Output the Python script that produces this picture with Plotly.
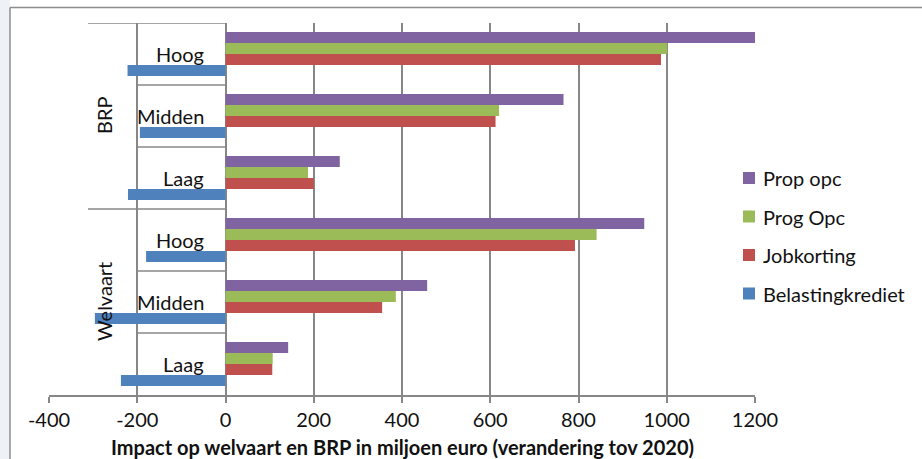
import plotly.graph_objects as go

# Scenario rows, top to bottom
groups = ["BRP", "BRP", "BRP", "Welvaart", "Welvaart", "Welvaart"]
levels = ["Hoog", "Midden", "Laag", "Hoog", "Midden", "Laag"]

# Impact in miljoen euro per maatregel
prop_opc = [1207, 766, 259, 949, 457, 142]
prog_opc = [1001, 620, 187, 841, 386, 107]
jobkorting = [987, 612, 200, 792, 355, 106]
belastingkrediet = [-222, -194, -221, -180, -296, -237]

series_names = ["Prop opc", "Prog Opc", "Jobkorting", "Belastingkrediet"]
series_values = [prop_opc, prog_opc, jobkorting, belastingkrediet]
series_colors = ["#8064A2", "#9BBB59", "#C0504D", "#4F81BD"]

x_ticks = [-400, -200, 0, 200, 400, 600, 800, 1000, 1200]

W, H = 922, 459
ML, MR, MT, MB = 49, 167, 23, 64
PW, PH = W - ML - MR, H - MT - MB

FONT = "Lato"
FS = 20
GRID = "#878787"
TXT = "#111111"


def px(xp):
    return (xp - ML) / PW


def py(yp):
    return (H - MB - yp) / PH


rows = list(range(len(levels)))

fig = go.Figure()
for name, vals, col in zip(series_names, series_values, series_colors):
    fig.add_trace(go.Bar(
        x=vals, y=rows, orientation="h", name=name,
        marker=dict(color=col, line=dict(width=0)),
        showlegend=False,
    ))

shapes = []
annotations = []

# page background strip and chart border
shapes.append(dict(type="rect", xref="paper", yref="paper", x0=px(0), x1=px(10),
                   y0=py(H), y1=py(0), fillcolor="#eef2f4", line=dict(width=0), layer="below"))
shapes.append(dict(type="line", xref="paper", yref="paper", x0=px(10), x1=px(W),
                   y0=py(7.5), y1=py(7.5), line=dict(color="#8c8c8c", width=1.5)))
shapes.append(dict(type="line", xref="paper", yref="paper", x0=px(10), x1=px(10),
                   y0=py(7.5), y1=py(H), line=dict(color="#8c8c8c", width=1.5)))

# category axis boxes: level separators and group separators
for b in range(len(levels)):
    yb = b - 0.5
    is_group_edge = b == 0 or groups[b - 1] != groups[b]
    x_left = px(88) if is_group_edge else 0.125
    shapes.append(dict(type="line", xref="paper", yref="y", x0=x_left, x1=0.25,
                       y0=yb, y1=yb, line=dict(color=GRID, width=1.5), layer="below"))

# level labels
for r, lab in zip(rows, levels):
    annotations.append(dict(xref="paper", yref="y", x=px(206), y=r, text=lab,
                            showarrow=False, xanchor="right", yanchor="middle",
                            font=dict(family=FONT, size=FS, color=TXT)))

# group labels (rotated)
seen = []
for g in groups:
    if g not in seen:
        seen.append(g)
for g in seen:
    idx = [i for i, gg in enumerate(groups) if gg == g]
    yc = (idx[0] + idx[-1]) / 2
    annotations.append(dict(xref="paper", yref="y", x=px(104), y=yc, text=g,
                            textangle=-90, showarrow=False, xanchor="center", yanchor="middle",
                            font=dict(family=FONT, size=FS, color=TXT)))

# legend
legend_y = [178, 216.5, 255, 293.5]
for name, col, ly in zip(series_names, series_colors, legend_y):
    shapes.append(dict(type="rect", xref="paper", yref="paper", x0=px(743), x1=px(755),
                       y0=py(ly + 6), y1=py(ly - 6), fillcolor=col, line=dict(width=0)))
    annotations.append(dict(xref="paper", yref="paper", x=px(761), y=py(ly), text=name,
                            showarrow=False, xanchor="left", yanchor="middle",
                            font=dict(family=FONT, size=FS, color=TXT)))

# x-axis title as a paper annotation, centred under the tick labels
annotations.append(dict(xref="paper", yref="paper", x=px(402), y=py(447),
                        text="<b>Impact op welvaart en BRP in miljoen euro (verandering tov 2020)</b>",
                        showarrow=False, xanchor="center", yanchor="middle",
                        font=dict(family=FONT, size=FS, color=TXT)))

fig.update_layout(
    width=W, height=H,
    margin=dict(l=ML, r=MR, t=MT, b=MB, pad=0, autoexpand=False),
    paper_bgcolor="white", plot_bgcolor="white",
    barmode="group", bargap=0.29, bargroupgap=0,
    shapes=shapes, annotations=annotations,
    showlegend=False,
    xaxis=dict(
        range=[-400, 1200], tickvals=x_ticks, ticktext=[str(v) for v in x_ticks],
        automargin=False,
        showgrid=True, gridcolor=GRID, gridwidth=1.5,
        zeroline=True, zerolinecolor=GRID, zerolinewidth=1.5,
        showline=True, linecolor=GRID, linewidth=1.5,
        ticks="outside", ticklen=6, tickcolor=GRID, tickwidth=1.5,
        tickfont=dict(family=FONT, size=FS, color=TXT),
        ticklabelstandoff=0,
        fixedrange=True,
    ),
    yaxis=dict(
        range=[len(levels) - 0.5, -0.5], showgrid=False, zeroline=False, automargin=False,
        showline=False, showticklabels=False, ticks="", fixedrange=True,
    ),
)

fig.write_html("out.html")
